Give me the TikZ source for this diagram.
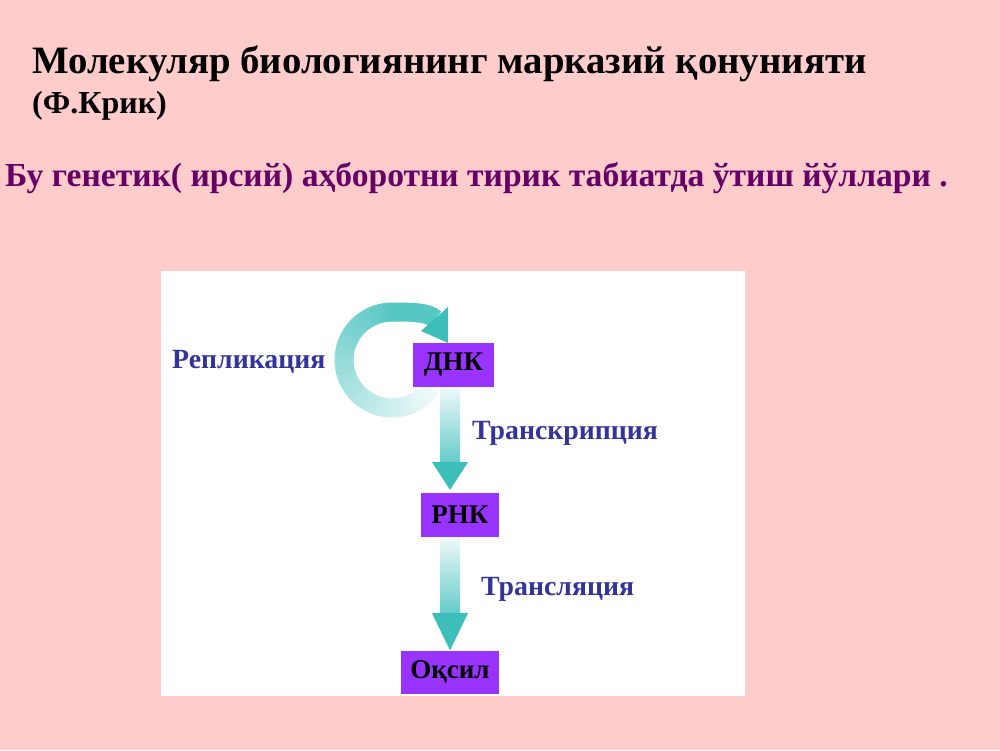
\documentclass[tikz,border=0pt]{standalone}
\usepackage{fontspec}
\setmainfont{Liberation Serif}
\usetikzlibrary{calc}
\definecolor{bgpink}{RGB}{255,204,204}
\definecolor{boxviolet}{RGB}{153,51,255}
\definecolor{labelnavy}{RGB}{51,51,153}
\definecolor{subpurple}{RGB}{102,0,102}
\definecolor{arrowteal}{RGB}{60,190,186}
\definecolor{palecyan}{RGB}{238,249,249}
\tikzset{
  txt/.style={anchor=base west, inner sep=0pt, font=\bfseries},
  procbox/.style={fill=boxviolet, inner sep=0pt, font=\fontsize{27}{30}\selectfont\bfseries, text=black},
  proclabel/.style={anchor=base west, inner sep=0pt, text=labelnavy, font=\fontsize{27.8}{30}\selectfont\bfseries},
  band/.style={line width=19pt},
}
\begin{document}
\begin{tikzpicture}[x=1pt,y=-1pt]
\fill[bgpink] (0,0) rectangle (1000,750);
\useasboundingbox (0,0) rectangle (1000,750);

% titles
\node[txt] (title) at (32,73) {\fontsize{38.8}{44}\selectfont Молекуляр биологиянинг марказий қонунияти};
\node[txt] (crick) at (32,113) {\fontsize{32}{36}\selectfont (Ф.Крик)};
\node[txt, text=subpurple] (sub) at (5,186) {\fontsize{33.6}{40}\selectfont Бу генетик( ирсий) аҳборотни тирик табиатда ўтиш йўллари .};

% white panel
\fill[white] (161,271) rectangle (745,696);

% loop (replication)
\coordinate (loopc) at (392,360);
\foreach \a in {35,40,...,265}{
  \pgfmathsetmacro\p{int(8+(\a-35)/230*77)}
  \draw[band, color=arrowteal!\p!white] ($(loopc)+(\a:48)$) arc[start angle=\a, end angle=\a+6, radius=48];
}
\coordinate (looptop) at (392,312);
\coordinate (loophb) at (435,319);
\draw[band, color=arrowteal!86!white] (looptop) .. controls (410,312) and (429,312) .. (loophb);

% boxes
\node[procbox, minimum width=81pt, minimum height=44pt] (dnk) at (453.5,365) {ДНК};
\node[procbox, minimum width=78pt, minimum height=44pt] (rnk) at (460,515) {РНК};
\node[procbox, minimum width=98pt, minimum height=43pt] (oksil) at (450,672) {Оқсил};

% loop head
\fill[arrowteal] (448,307) -- ($(dnk.north west)+(35,0)$) -- (421,331) -- cycle;

% transcription arrow
\shade[top color=palecyan, bottom color=arrowteal!80!white]
  ($(dnk.south -| oksil.north)+(-10,0)$) rectangle ($(dnk.south -| oksil.north)+(10,76)$);
\fill[arrowteal] ($(dnk.south -| oksil.north)+(-18,75)$) -- ($(dnk.south -| oksil.north)+(18,75)$)
  -- ($(rnk.north -| oksil.north)+(0,-3)$) -- cycle;

% translation arrow
\shade[top color=palecyan, bottom color=arrowteal!80!white]
  ($(rnk.south -| oksil.north)+(-10,0)$) rectangle ($(rnk.south -| oksil.north)+(10,77)$);
\fill[arrowteal] ($(rnk.south -| oksil.north)+(-18,76)$) -- ($(rnk.south -| oksil.north)+(18,76)$)
  -- (oksil.north) -- cycle;

% labels
\node[proclabel] (repl) at (172,368) {Репликация};
\node[proclabel] (trsc) at (472,439) {Транскрипция};
\node[proclabel] (trsl) at (481,595) {Трансляция};
\end{tikzpicture}
\end{document}
